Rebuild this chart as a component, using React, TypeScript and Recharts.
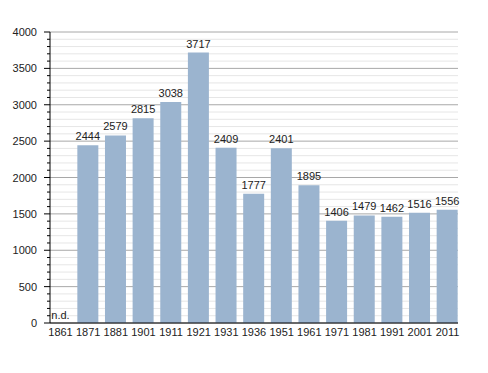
import { BarChart, Bar, XAxis, YAxis, CartesianGrid, LabelList } from "recharts";

const years = ["1861", "1871", "1881", "1901", "1911", "1921", "1931", "1936", "1951", "1961", "1971", "1981", "1991", "2001", "2011"];
// null = no data for that census
const population: (number | null)[] = [null, 2444, 2579, 2815, 3038, 3717, 2409, 1777, 2401, 1895, 1406, 1479, 1462, 1516, 1556];
const missingLabel = "n.d.";

// every 100 gets a grid line, every 500 a label
const yTicks = Array.from({ length: 41 }, (_, i) => i * 100);

const data = years.map((year, i) => ({ year, value: population[i] }));

const FONT = "'Liberation Sans', Arial, sans-serif";
const NARROW = "'Liberation Sans Narrow', 'Arial Narrow', sans-serif";

const XTick = (props: any) => {
  const { x, y, payload, index } = props;
  const missing = population[index] == null;
  return (
    <g>
      <text x={x} y={y} dy={11} textAnchor="middle" fontSize={11} fill="#222" fontFamily={NARROW}>
        {payload.value}
      </text>
      {missing && (
        <text x={x} y={y} dy={-6} textAnchor="middle" fontSize={11} fill="#222" fontFamily={FONT}>
          {missingLabel}
        </text>
      )}
    </g>
  );
};

const YTick = (props: any) => {
  const { x, y, payload } = props;
  const major = payload.value % 500 === 0;
  return (
    <g>
      <line x1={x - (major ? 6 : 3)} y1={y} x2={x} y2={y} stroke="#000" strokeWidth={1} />
      {major && (
        <text x={x - 13} y={y} dy={4} textAnchor="end" fontSize={11} fill="#222" fontFamily={FONT}>
          {payload.value}
        </text>
      )}
    </g>
  );
};

const GridLine = (props: any) => {
  const { x1, x2, y1, y2, index } = props;
  const major = index % 5 === 0;
  return (
    <line key={`g-${index}`} x1={x1} x2={x2} y1={y1} y2={y2} stroke={major ? "#a8a8a8" : "#e6e6e6"} strokeWidth={1} />
  );
};

const BarLabel = (props: any) => {
  const { x, y, width, value } = props;
  if (value == null) return null;
  return (
    <text x={x + width / 2} y={y - 5} textAnchor="middle" fontSize={11} fill="#222" fontFamily={FONT}>
      {value}
    </text>
  );
};

export default function App() {
  return (
    <div style={{ position: "absolute", left: 0, top: 0, width: 488, height: 373, background: "#fff" }}>
      <BarChart width={488} height={373} data={data} margin={{ top: 32, right: 30, left: 0, bottom: 20 }} barSize={21}>
        <CartesianGrid vertical={false} horizontal={GridLine} />
        <XAxis
          dataKey="year"
          tickLine={false}
          axisLine={{ stroke: "#000" }}
          interval={0}
          padding={{ left: -3.3, right: -3.3 }}
          tick={<XTick />}
          tickSize={0}
          tickMargin={2}
        />
        <YAxis
          width={50}
          domain={[0, 4000]}
          ticks={yTicks}
          interval={0}
          tickSize={0}
          tickMargin={0}
          tickLine={false}
          axisLine={{ stroke: "#000" }}
          tick={<YTick />}
        />
        <Bar dataKey="value" fill="#9bb4cf" isAnimationActive={false}>
          <LabelList dataKey="value" content={<BarLabel />} />
        </Bar>
      </BarChart>
    </div>
  );
}
